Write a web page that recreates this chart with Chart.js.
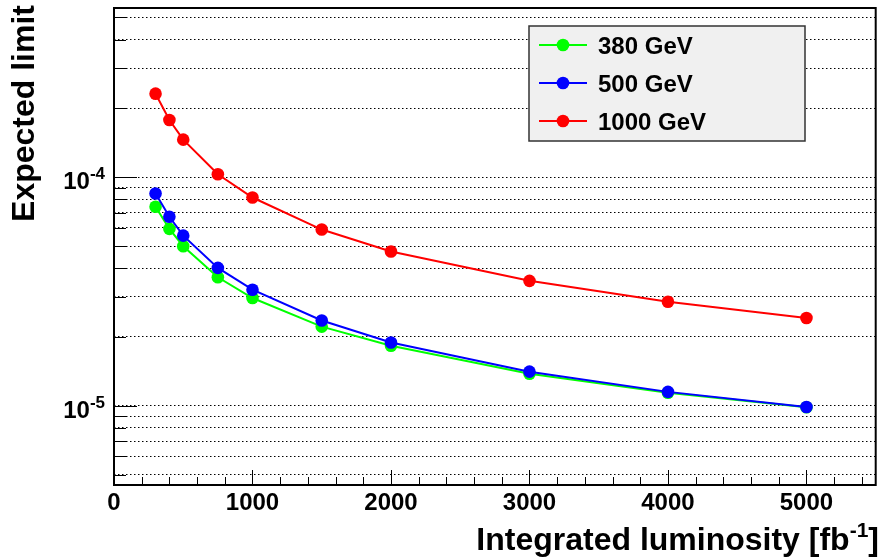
<!DOCTYPE html>
<html><head><meta charset="utf-8">
<script src="https://cdn.jsdelivr.net/npm/chart.js@4/dist/chart.umd.min.js"></script>
<style>html,body{margin:0;padding:0;background:#fff;}canvas{display:block;}</style>
</head><body>
<canvas id="c" width="882" height="558"></canvas>
<script>
// ---- data ----
const seriesLabels = ['380 GeV', '500 GeV', '1000 GeV'];
const seriesColors = ['#00ff00', '#0000ff', '#ff0000'];
const lumi = [300, 400, 500, 750, 1000, 1500, 2000, 3000, 4000, 5000];
const limit380  = [7.42e-5, 5.94e-5, 4.99e-5, 3.65e-5, 2.96e-5, 2.22e-5, 1.83e-5, 1.38e-5, 1.14e-5, 9.85e-6];
const limit500  = [8.48e-5, 6.71e-5, 5.55e-5, 4.01e-5, 3.22e-5, 2.36e-5, 1.89e-5, 1.41e-5, 1.15e-5, 9.87e-6];
const limit1000 = [2.32e-4, 1.78e-4, 1.46e-4, 1.03e-4, 8.15e-5, 5.90e-5, 4.73e-5, 3.52e-5, 2.85e-5, 2.42e-5];

// ---- ticks ----
const xMajorTicks  = [0, 1000, 2000, 3000, 4000, 5000];
const xMajorLabels = ['0', '1000', '2000', '3000', '4000', '5000'];
const xMinorTicks  = [200, 400, 600, 800, 1200, 1400, 1600, 1800, 2200, 2400, 2600, 2800,
                      3200, 3400, 3600, 3800, 4200, 4400, 4600, 4800, 5200, 5400];
const yGridValues  = [5e-6, 6e-6, 7e-6, 8e-6, 9e-6,
                      1e-5, 2e-5, 3e-5, 4e-5, 5e-5, 6e-5, 7e-5, 8e-5, 9e-5,
                      1e-4, 2e-4, 3e-4, 4e-4, 5e-4];
const yLabelValues    = [1e-5, 1e-4];
const yLabelExponents = ['-5', '-4'];
const xTitleMain = 'Integrated luminosity [fb';
const xTitleSup  = '-1';
const xTitleEnd  = ']';
const yTitle     = 'Expected limit';

const FONT = '"Liberation Sans", Arial, Helvetica, sans-serif';
const allSeries = [limit380, limit500, limit1000];

const datasets = allSeries.map((vals, i) => ({
  label: seriesLabels[i],
  data: lumi.map((x, j) => ({x: x, y: vals[j]})),
  borderColor: seriesColors[i],
  backgroundColor: seriesColors[i],
  pointBackgroundColor: seriesColors[i],
  pointBorderColor: seriesColors[i],
  pointRadius: 6.3,
  pointBorderWidth: 0,
  borderWidth: 2,
  tension: 0,
  order: [2, 1, 0][i]
}));

const rootPlugin = {
  id: 'rootStyle',
  afterDraw(chart) {
    const ctx = chart.ctx;
    const a = chart.chartArea;
    const xs = chart.scales.x, ys = chart.scales.y;
    ctx.save();
    ctx.strokeStyle = '#000';
    ctx.fillStyle = '#000';
    // x ticks (inside)
    ctx.lineWidth = 1;
    ctx.beginPath();
    xMajorTicks.forEach(v => {
      const px = Math.round(xs.getPixelForValue(v)) + 0.5;
      ctx.moveTo(px, a.bottom); ctx.lineTo(px, a.bottom - 15);
    });
    xMinorTicks.forEach(v => {
      const px = Math.round(xs.getPixelForValue(v)) + 0.5;
      ctx.moveTo(px, a.bottom); ctx.lineTo(px, a.bottom - 8);
    });
    // y ticks
    yGridValues.forEach(v => {
      const py = Math.round(ys.getPixelForValue(v)) + 0.5;
      const len = yLabelValues.includes(v) ? 23 : 12;
      ctx.moveTo(a.left, py); ctx.lineTo(a.left + len, py);
    });
    ctx.stroke();
    // frame
    ctx.lineWidth = 2;
    ctx.strokeRect(a.left, a.top, a.right - a.left, a.bottom - a.top);

    // x labels
    ctx.font = 'bold 24px ' + FONT;
    ctx.textAlign = 'center';
    ctx.textBaseline = 'alphabetic';
    xMajorTicks.forEach((v, i) => {
      ctx.fillText(xMajorLabels[i], xs.getPixelForValue(v), 510);
    });
    // y labels 10^n
    yLabelValues.forEach((v, i) => {
      const py = ys.getPixelForValue(v);
      ctx.font = 'bold 17px ' + FONT;
      ctx.textAlign = 'right';
      const supW = ctx.measureText(yLabelExponents[i]).width;
      ctx.fillText(yLabelExponents[i], 105, py + 2);
      ctx.font = 'bold 24px ' + FONT;
      ctx.fillText('10', 105 - supW, py + 12);
    });
    // x title
    ctx.textAlign = 'left';
    ctx.font = 'bold 32px ' + FONT;
    const wMain = ctx.measureText(xTitleMain).width;
    const wEnd = ctx.measureText(xTitleEnd).width;
    ctx.font = 'bold 21px ' + FONT;
    const wSup = ctx.measureText(xTitleSup).width;
    const xEnd = 879;
    const x0 = xEnd - wEnd - wSup - wMain;
    ctx.font = 'bold 32px ' + FONT;
    ctx.fillText(xTitleMain, x0, 550);
    ctx.fillText(xTitleEnd, x0 + wMain + wSup, 550);
    ctx.font = 'bold 21px ' + FONT;
    ctx.fillText(xTitleSup, x0 + wMain, 537);
    // y title
    ctx.save();
    ctx.translate(34, 5);
    ctx.rotate(-Math.PI / 2);
    ctx.font = 'bold 32px ' + FONT;
    ctx.textAlign = 'right';
    ctx.fillText(yTitle, 0, 0);
    ctx.restore();

    // legend
    const lx = 529, ly = 26, lw = 276, lh = 115;
    ctx.fillStyle = '#f0f0f0';
    ctx.fillRect(lx, ly, lw, lh);
    ctx.strokeStyle = '#333';
    ctx.lineWidth = 1.5;
    ctx.strokeRect(lx, ly, lw, lh);
    const rows = [45, 83, 121];
    seriesLabels.forEach((lab, i) => {
      const cy = rows[i];
      ctx.strokeStyle = seriesColors[i];
      ctx.fillStyle = seriesColors[i];
      ctx.lineWidth = 2;
      ctx.beginPath(); ctx.moveTo(539, cy); ctx.lineTo(587, cy); ctx.stroke();
      ctx.beginPath(); ctx.arc(563, cy, 6.3, 0, Math.PI * 2); ctx.fill();
      ctx.fillStyle = '#000';
      ctx.font = 'bold 24px ' + FONT;
      ctx.textAlign = 'left';
      ctx.fillText(lab, 598, cy + 9);
    });
    ctx.restore();
  }
};

new Chart(document.getElementById('c'), {
  type: 'line',
  data: {datasets: datasets},
  options: {
    responsive: false,
    animation: false,
    layout: {padding: {left: 114, right: 3, top: 8, bottom: 73}},
    plugins: {legend: {display: false}, tooltip: {enabled: false}},
    scales: {
      x: {
        type: 'linear', min: 0, max: 5500,
        grid: {display: false, drawTicks: false},
        border: {display: false},
        ticks: {display: false}
      },
      y: {
        type: 'logarithmic', min: 4.5e-6, max: 5.5e-4,
        afterBuildTicks: (s) => { s.ticks = yGridValues.map(v => ({value: v})); },
        grid: {color: '#000', lineWidth: 1, drawTicks: false},
        border: {display: false, dash: [1.5, 2.5]},
        ticks: {display: false}
      }
    }
  },
  plugins: [rootPlugin]
});
</script>
</body></html>
